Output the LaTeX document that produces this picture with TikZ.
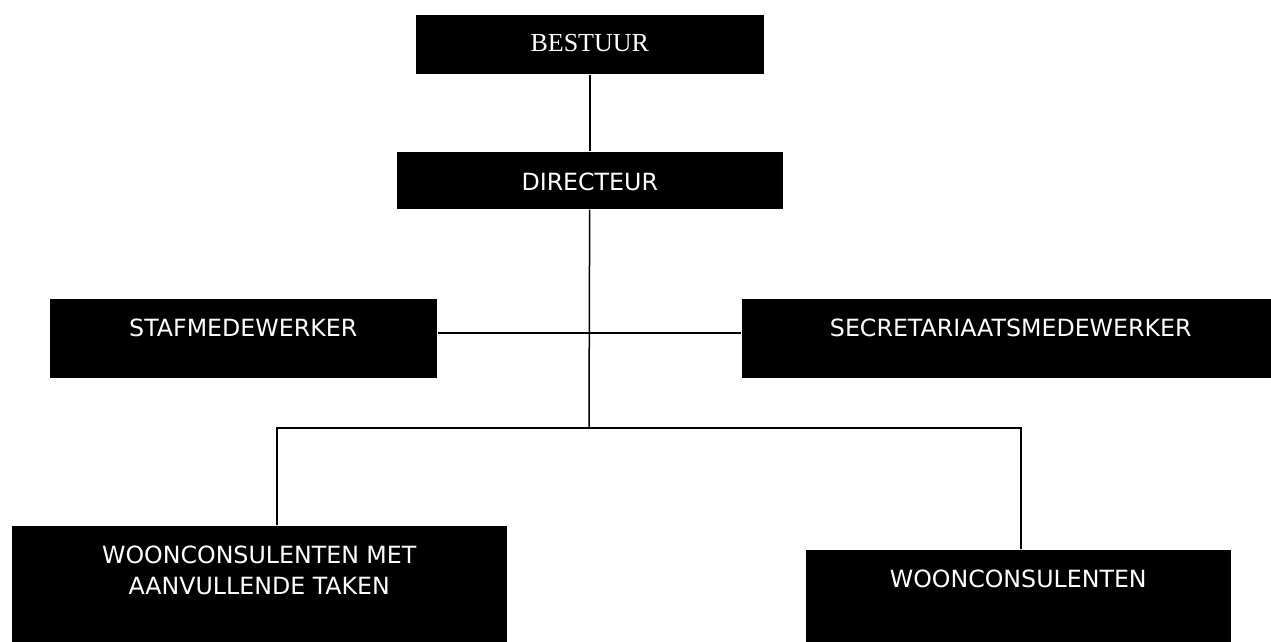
\documentclass[tikz,border=0pt]{standalone}
\usepackage{fontspec}
\setmainfont{DejaVu Sans}
\newfontfamily\boardfont{Liberation Serif}
\begin{document}
\begin{tikzpicture}[x=1pt,y=-1pt,line width=1.5pt,
  unit/.style={fill=black,text=white,anchor=north west,inner sep=0pt,align=center,
    font=\fontsize{23.7}{31}\selectfont}]
\useasboundingbox (0,0) rectangle (1271,641);
% boxes
\node[unit,minimum width=348pt,text height=36.6pt,text depth=22.4pt,
  font=\boardfont\fontsize{26}{30}\selectfont] (bestuur) at (415,14) {BESTUUR};
\node[unit,minimum width=386pt,text height=38.5pt,text depth=18.5pt] (directeur) at (396,151) {DIRECTEUR};
\node[unit,minimum width=387pt,text height=38pt,text depth=41pt] (staf) at (49,298) {STAFMEDEWERKER};
\node[unit,minimum width=538pt,text height=38pt,text depth=41pt] (secr) at (741,298) {SECRETARIAATSMEDEWERKER};
\node[unit,minimum width=495pt,text height=69pt,text depth=66pt] (wmet) at (11,525) {WOONCONSULENTEN MET\\AANVULLENDE TAKEN};
\node[unit,minimum width=425pt,text height=38pt,text depth=73pt] (wcon) at (805,549) {WOONCONSULENTEN};
% lines
\coordinate (mid) at (589,333);
\coordinate (bus) at (589,428);
\coordinate (busl) at (277,428);
\coordinate (busr) at (1021,428);
\draw (bestuur) -- (directeur);
\draw (directeur) -- (bus);
\draw (staf.east |- mid) -- (secr.west |- mid);
\draw (busl |- wmet.north) -- (busl) -- (busr) -- (busr |- wcon.north);
\end{tikzpicture}
\end{document}
